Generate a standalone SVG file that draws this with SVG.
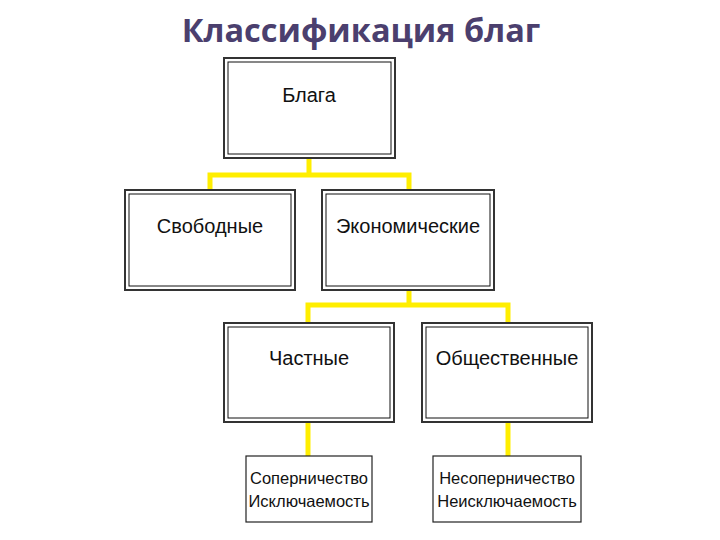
<svg xmlns="http://www.w3.org/2000/svg" width="720" height="540" viewBox="0 0 720 540">
<style>
.title{font-family:"Open Sans","Liberation Sans",sans-serif;font-weight:bold;font-size:32.5px;fill:#4b3f6e;text-anchor:middle}
.o{fill:none;stroke:#333;stroke-width:2}
.i{fill:none;stroke:#111;stroke-width:1}
.s{fill:#fff;stroke:#222;stroke-width:1.2}
.t{font-family:"Liberation Sans",Arial,sans-serif;font-size:20px;fill:#111;text-anchor:middle}
.st{font-family:"Liberation Sans",Arial,sans-serif;font-size:16.5px;fill:#111;text-anchor:middle}
.c{fill:none;stroke:#ffee00;stroke-width:5;stroke-linejoin:miter}
</style>
<rect width="720" height="540" fill="#fff"/>
<text class="title" x="361" y="42">Классификация благ</text>
<g id="connectors">
<path class="c" d="M309,158 V175 M210,190 V175 H409 V190"/>
<path class="c" d="M409,290 V305 M308,323 V305 H508 V323"/>
<path class="c" d="M308,422 V457"/>
<path class="c" d="M508,422 V457"/>
</g>
<g id="blaga">
<rect class="o" x="224" y="58" width="171" height="100"/>
<rect class="i" x="228" y="62" width="163" height="92"/>
<text class="t" x="309" y="102">Блага</text>
</g>
<g id="svobodnye">
<rect class="o" x="125" y="190" width="170" height="100"/>
<rect class="i" x="129" y="194" width="162" height="92"/>
<text class="t" x="210" y="233">Свободные</text>
</g>
<g id="ekonomicheskie">
<rect class="o" x="322" y="190" width="172" height="100"/>
<rect class="i" x="326" y="194" width="164" height="92"/>
<text class="t" x="408" y="233">Экономические</text>
</g>
<g id="chastnye">
<rect class="o" x="224" y="323" width="170" height="99"/>
<rect class="i" x="228" y="327" width="162" height="91"/>
<text class="t" x="309" y="365">Частные</text>
</g>
<g id="obshchestvennye">
<rect class="o" x="422" y="323" width="170" height="99"/>
<rect class="i" x="426" y="327" width="162" height="91"/>
<text class="t" x="507" y="365">Общественные</text>
</g>
<g id="sopernichestvo">
<rect class="s" x="246" y="456" width="126" height="66"/>
<text class="st" x="309" y="484">Соперничество</text>
<text class="st" x="309" y="507">Исключаемость</text>
</g>
<g id="nesopernichestvo">
<rect class="s" x="433" y="456" width="148" height="66"/>
<text class="st" x="507" y="484">Несоперничество</text>
<text class="st" x="507" y="507">Неисключаемость</text>
</g>
</svg>
